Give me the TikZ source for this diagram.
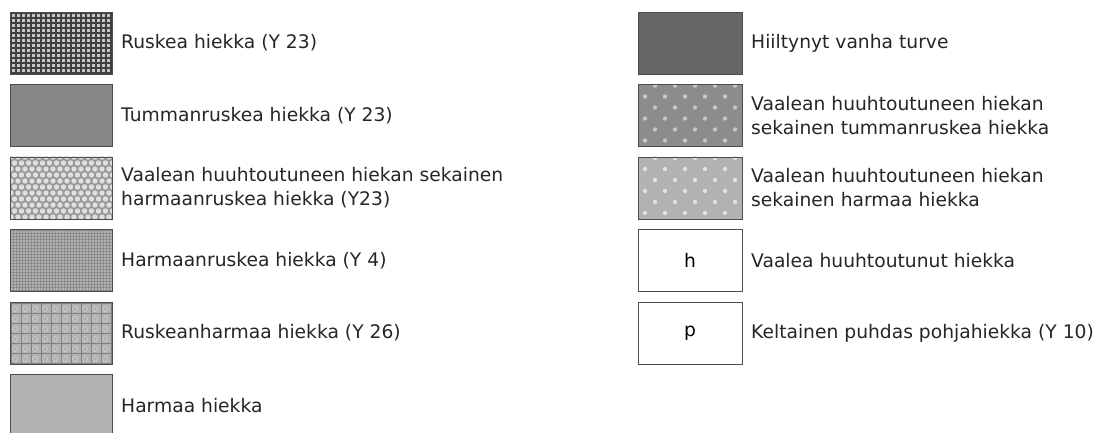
\documentclass[tikz,border=0pt]{standalone}
\usepackage{fontspec}
\setmainfont{DejaVu Sans}
\usepackage{tikz}
\usetikzlibrary{positioning}
\newcommand{\legfont}{\fontsize{18.7pt}{24pt}\selectfont}
\tikzset{
  swatch/.style={draw=black!70, line width=0.9pt, minimum width=102pt, minimum height=62pt, inner sep=0pt, outer sep=0pt, font=\legfont},
  legtext/.style={right=9pt of #1, inner sep=0pt, align=left, font=\legfont, text=black!85},
  coarsegrid/.style={fill=black!22, path picture={\draw[black!75, line width=1.2pt, step=5pt] (path picture bounding box.south west) grid (path picture bounding box.north east);}},
  finegrid/.style={fill=black!30, path picture={\draw[black!45, line width=0.5pt, step=3pt] (path picture bounding box.south west) grid (path picture bounding box.north east);}},
  honeycomb/.style={fill=black!40, path picture={\foreach \ii in {0,...,10} \foreach \jj in {0,...,15} \fill[black!12] ([shift={({\jj*7pt+mod(\ii,2)*3.5pt+1pt},{\ii*6pt+2pt})}]path picture bounding box.south west) circle (2.7pt);}},
  cellgrid/.style={fill=black!30, path picture={\draw[black!50, line width=0.7pt, step=10pt] (path picture bounding box.south west) grid (path picture bounding box.north east);
      \foreach \ii in {0,...,6} \foreach \jj in {0,...,10} \draw[black!18, line width=0.5pt] ([shift={({\jj*10pt+5pt},{\ii*10pt+5pt})}]path picture bounding box.south west) circle (2.5pt);}},
  dotted/.style 2 args={fill=black!#1, path picture={\foreach \ii in {0,...,5} \foreach \jj in {0,...,5} \fill[black!#2] ([shift={({\jj*20pt+mod(\ii,2)*10pt+7pt},{\ii*11pt+6pt})}]path picture bounding box.south west) circle (2.2pt);}}
}
\begin{document}
\begin{tikzpicture}
\useasboundingbox (0pt,0pt) rectangle (1101pt,-433pt);
% left column
\node[swatch, coarsegrid, anchor=north west] (s1) at (10pt,-12pt) {};
\node[swatch, fill=black!47, below=10.5pt of s1] (s2) {};
\node[swatch, honeycomb, below=10.5pt of s2] (s3) {};
\node[swatch, finegrid, below=10.5pt of s3] (s4) {};
\node[swatch, cellgrid, below=10.5pt of s4] (s5) {};
\node[swatch, fill=black!30, below=10.5pt of s5] (s6) {};
\node[legtext=s1] (t1) {Ruskea hiekka (Y 23)};
\node[legtext=s2] (t2) {Tummanruskea hiekka (Y 23)};
\node[legtext=s3] (t3) {Vaalean huuhtoutuneen hiekan sekainen\\harmaanruskea hiekka (Y23)};
\node[legtext=s4] (t4) {Harmaanruskea hiekka (Y 4)};
\node[legtext=s5] (t5) {Ruskeanharmaa hiekka (Y 26)};
\node[legtext=s6] (t6) {Harmaa hiekka};
% right column
\node[swatch, minimum width=104pt, fill=black!60, anchor=north west] (r1) at (638pt,-12pt) {};
\node[swatch, minimum width=104pt, dotted={45}{22}, below=10.5pt of r1] (r2) {};
\node[swatch, minimum width=104pt, dotted={30}{12}, below=10.5pt of r2] (r3) {};
\node[swatch, minimum width=104pt, fill=white, below=10.5pt of r3] (r4) {h};
\node[swatch, minimum width=104pt, fill=white, below=10.5pt of r4] (r5) {p};
\node[legtext=r1] (u1) {Hiiltynyt vanha turve};
\node[legtext=r2] (u2) {Vaalean huuhtoutuneen hiekan\\sekainen tummanruskea hiekka};
\node[legtext=r3] (u3) {Vaalean huuhtoutuneen hiekan\\sekainen harmaa hiekka};
\node[legtext=r4] (u4) {Vaalea huuhtoutunut hiekka};
\node[legtext=r5] (u5) {Keltainen puhdas pohjahiekka (Y 10)};
\end{tikzpicture}
\end{document}
